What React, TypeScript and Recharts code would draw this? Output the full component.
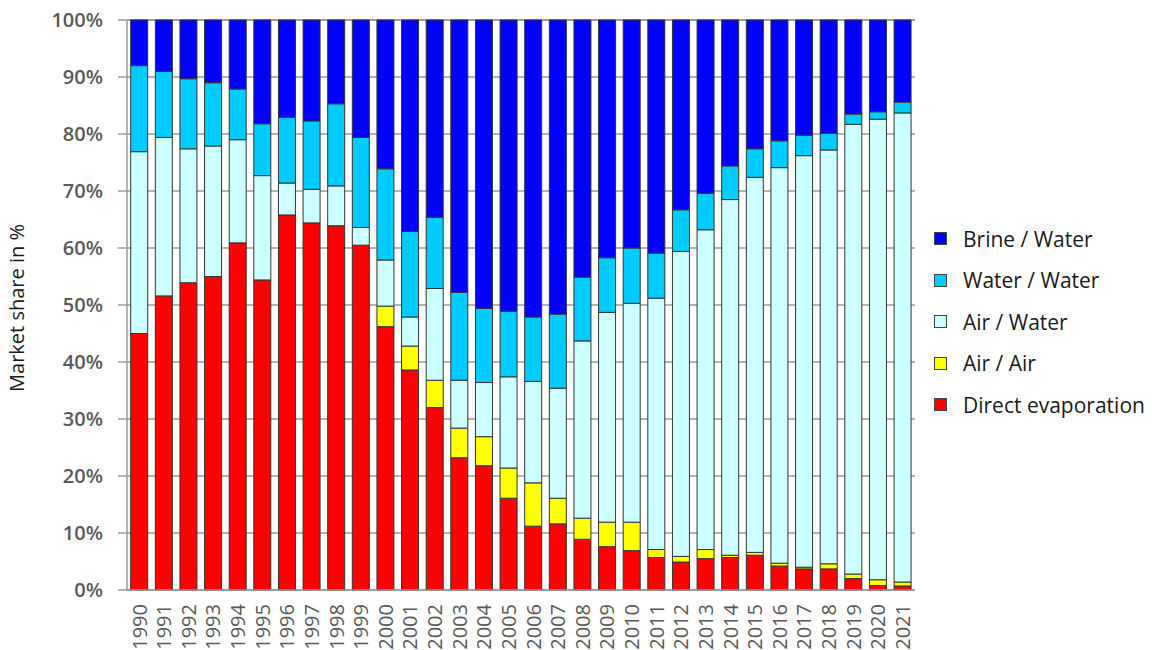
import React from "react";
import { BarChart, Bar, XAxis, YAxis, CartesianGrid } from "recharts";

// ─── Data (market share in %) ─────────────────────────────────────────────────

const YEARS = [
  "1990", "1991", "1992", "1993", "1994", "1995", "1996", "1997",
  "1998", "1999", "2000", "2001", "2002", "2003", "2004", "2005",
  "2006", "2007", "2008", "2009", "2010", "2011", "2012", "2013",
  "2014", "2015", "2016", "2017", "2018", "2019", "2020", "2021",
];

const DIRECT_EVAPORATION = [
  45.0, 51.6, 53.9, 55.0, 60.9, 54.4, 65.8, 64.4,
  63.9, 60.5, 46.2, 38.6, 32.0, 23.2, 21.8, 16.1,
  11.2, 11.6, 8.9, 7.6, 6.9, 5.7, 4.9, 5.5,
  5.7, 6.1, 4.2, 3.7, 3.7, 2.0, 0.8, 0.7,
];

const AIR_AIR = [
  0, 0, 0, 0, 0, 0, 0, 0,
  0, 0, 3.6, 4.2, 4.8, 5.2, 5.1, 5.3,
  7.6, 4.5, 3.7, 4.3, 5.0, 1.4, 1.0, 1.6,
  0.4, 0.5, 0.5, 0.3, 0.9, 0.8, 1.0, 0.7,
];

const AIR_WATER = [
  31.9, 27.8, 23.5, 22.9, 18.1, 18.3, 5.6, 5.9,
  7.0, 3.1, 8.1, 5.1, 16.1, 8.4, 9.5, 16.0,
  17.8, 19.3, 31.1, 36.8, 38.4, 44.1, 53.5, 56.1,
  62.4, 65.8, 69.4, 72.2, 72.6, 78.9, 80.8, 82.3,
];

const WATER_WATER = [
  15.1, 11.6, 12.3, 11.1, 8.9, 9.1, 11.5, 12.0,
  14.4, 15.8, 16.0, 15.0, 12.5, 15.4, 13.0, 11.5,
  11.3, 13.0, 11.2, 9.6, 9.7, 7.9, 7.3, 6.4,
  5.9, 5.0, 4.7, 3.6, 2.9, 1.8, 1.3, 1.9,
];

const BRINE_WATER = [
  8.0, 9.0, 10.3, 11.0, 12.1, 18.2, 17.1, 17.7,
  14.7, 20.6, 26.1, 37.1, 34.6, 47.8, 50.6, 51.1,
  52.1, 51.6, 45.1, 41.7, 40.0, 40.9, 33.3, 30.4,
  25.6, 22.6, 21.2, 20.2, 19.9, 16.5, 16.1, 14.4,
];

const Y_TICKS = [0, 10, 20, 30, 40, 50, 60, 70, 80, 90, 100];

// stacking order bottom -> top
const SERIES = [
  { key: "direct", name: "Direct evaporation", color: "#ff0000", values: DIRECT_EVAPORATION },
  { key: "airAir", name: "Air / Air", color: "#ffff00", values: AIR_AIR },
  { key: "airWater", name: "Air / Water", color: "#ccffff", values: AIR_WATER },
  { key: "waterWater", name: "Water / Water", color: "#00ccff", values: WATER_WATER },
  { key: "brineWater", name: "Brine / Water", color: "#0000ff", values: BRINE_WATER },
];

const data = YEARS.map((year, i) => {
  const row: Record<string, any> = { year, slot: i + 0.5 };
  SERIES.forEach((s) => (row[s.key] = s.values[i]));
  return row;
});

const BOUNDARY_TICKS = YEARS.map((_, i) => i).concat(YEARS.length);

const FONT = "'Open Sans', 'Liberation Sans', sans-serif";
const GRID = "#9a9a9a";

// ─── Pieces ───────────────────────────────────────────────────────────────────

function YearTick({ x, y, payload }: any) {
  return (
    <text
      x={x}
      y={y}
      transform={`rotate(-90, ${x}, ${y})`}
      textAnchor="end"
      dy="0.36em"
      fill="#595959"
      fontSize={20}
      fontFamily={FONT}
    >
      {payload.value}
    </text>
  );
}

function SideLegend() {
  const items = [...SERIES].reverse();
  return (
    <div style={{ position: "absolute", left: 934, top: 218, fontFamily: FONT }}>
      {items.map((s) => (
        <div
          key={s.key}
          style={{ display: "flex", alignItems: "center", height: 41.5 }}
        >
          <div
            style={{
              width: 11,
              height: 11,
              background: s.color,
              border: "1px solid #444",
              marginRight: 16,
            }}
          />
          <span style={{ fontSize: 21, color: "#1a1a1a", whiteSpace: "nowrap" }}>{s.name}</span>
        </div>
      ))}
    </div>
  );
}

// ─── Chart ────────────────────────────────────────────────────────────────────

export default function App() {
  return (
    <div style={{ position: "fixed", left: 0, top: 0, width: 1152, height: 650, background: "#fff" }}>
      <BarChart
        width={1152}
        height={650}
        data={data}
        margin={{ top: 20, right: 237, bottom: 0, left: 0 }}
        barCategoryGap="15%"
      >
        <CartesianGrid vertical={false} stroke={GRID} strokeWidth={1.5} />
        <XAxis
          dataKey="year"
          interval={0}
          tick={<YearTick />}
          tickLine={false}
          tickMargin={8}
          axisLine={{ stroke: GRID, strokeWidth: 1.5 }}
          height={60}
        />
        <XAxis
          xAxisId="bounds"
          type="number"
          dataKey="slot"
          domain={[0, YEARS.length]}
          ticks={BOUNDARY_TICKS}
          interval={0}
          tick={false}
          tickSize={7}
          tickLine={{ stroke: GRID, strokeWidth: 1.5 }}
          axisLine={false}
          height={0}
        />
        <YAxis
          domain={[0, 100]}
          ticks={Y_TICKS}
          interval={0}
          width={127}
          tickFormatter={(v: number) => `${v}%`}
          tick={{ fill: "#595959", fontSize: 20, fontFamily: FONT, fontWeight: 600 }}
          tickSize={9}
          tickMargin={15}
          tickLine={{ stroke: GRID, strokeWidth: 1.5 }}
          axisLine={{ stroke: GRID, strokeWidth: 1.5 }}
          label={{
            content: () => (
              <text
                x={24}
                y={308}
                transform="rotate(-90, 24, 308)"
                textAnchor="middle"
                fill="#1a1a1a"
                fontSize={20}
                fontFamily={FONT}
              >
                Market share in %
              </text>
            ),
          }}
        />
        {SERIES.map((s) => (
          <Bar
            key={s.key}
            dataKey={s.key}
            name={s.name}
            stackId="share"
            fill={s.color}
            stroke="#333"
            strokeWidth={1}
            isAnimationActive={false}
          />
        ))}
      </BarChart>
      <SideLegend />
    </div>
  );
}
